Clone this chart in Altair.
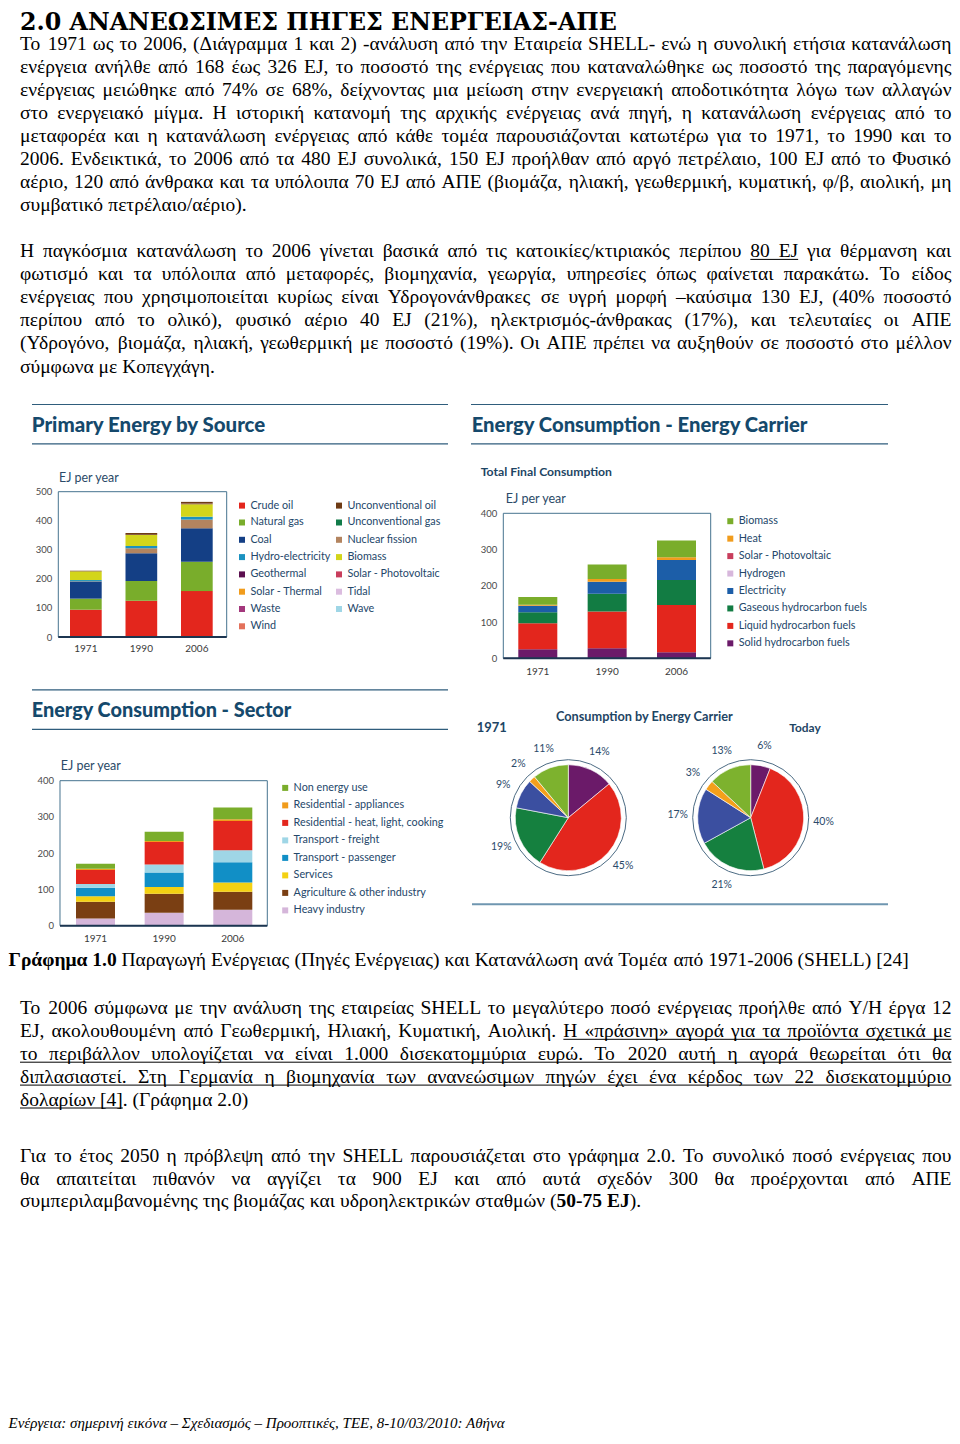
import os
import glob
import struct
import subprocess

import pandas as pd
import altair as alt

# ---------------------------------------------------------------- data
years = ['1971', '1990', '2006']

# Primary energy by source, EJ per year (stacked bottom -> top)
source_names = ['Crude oil', 'Natural gas', 'Coal', 'Nuclear fission', 'Hydro-electricity',
                'Biomass', 'Geothermal', 'Solar - Thermal', 'Waste', 'Wind',
                'Solar - Photovoltaic', 'Tidal', 'Wave', 'Unconventional gas', 'Unconventional oil']
source_1971 = [94, 38, 59, 1, 4, 30, 0, 0, 0, 0, 0, 0, 0, 0, 2]
source_1990 = [125, 68, 95, 17, 8, 38, 1, 0, 0, 0, 0, 0, 0, 0, 6]
source_2006 = [158, 101, 115, 30, 10, 43, 1, 0, 0, 1, 0, 0, 0, 0, 6]
# legend order, column by column
source_legend = ['Crude oil', 'Natural gas', 'Coal', 'Hydro-electricity', 'Geothermal',
                 'Solar - Thermal', 'Waste', 'Wind',
                 'Unconventional oil', 'Unconventional gas', 'Nuclear fission', 'Biomass',
                 'Solar - Photovoltaic', 'Tidal', 'Wave']
source_colors = {'Crude oil': '#e3261d', 'Unconventional oil': '#6e3b14',
                 'Natural gas': '#79ad2b', 'Unconventional gas': '#117b49',
                 'Coal': '#143f85', 'Nuclear fission': '#b3845f',
                 'Hydro-electricity': '#1b92c0', 'Biomass': '#d3d51b',
                 'Geothermal': '#5b0f4f', 'Solar - Photovoltaic': '#c83d5c',
                 'Solar - Thermal': '#f19c1c', 'Tidal': '#dbbcdf',
                 'Waste': '#a3377c', 'Wave': '#9fd6e6', 'Wind': '#e3715b'}

# Total final consumption by carrier, EJ per year (stacked bottom -> top)
carrier_names = ['Solid hydrocarbon fuels', 'Liquid hydrocarbon fuels', 'Gaseous hydrocarbon fuels',
                 'Electricity', 'Hydrogen', 'Solar - Photovoltaic', 'Heat', 'Biomass']
carrier_1971 = [25, 72, 30, 18, 0, 0, 3, 21]
carrier_1990 = [28, 101, 49, 33, 0, 0, 8, 40]
carrier_2006 = [17, 130, 69, 55, 0, 0, 8, 46]
carrier_legend = list(reversed(carrier_names))
carrier_colors = {'Solid hydrocarbon fuels': '#6b1a69', 'Liquid hydrocarbon fuels': '#e3261d',
                  'Gaseous hydrocarbon fuels': '#127c43', 'Electricity': '#1c5ea8',
                  'Hydrogen': '#d7b7dc', 'Solar - Photovoltaic': '#c83d5c',
                  'Heat': '#f19c1c', 'Biomass': '#7aad2b'}

# Consumption by sector, EJ per year (stacked bottom -> top)
sector_names = ['Heavy industry', 'Agriculture & other industry', 'Services',
                'Transport - passenger', 'Transport - freight',
                'Residential - heat, light, cooking', 'Residential - appliances', 'Non energy use']
sector_1971 = [20, 46, 15, 24, 10, 39, 3, 14]
sector_1990 = [36, 52, 19, 40, 22, 62, 3, 25]
sector_2006 = [44, 50, 25, 56, 33, 81, 5, 32]
sector_legend = list(reversed(sector_names))
sector_colors = {'Heavy industry': '#d5b6da', 'Agriculture & other industry': '#7a3f13',
                 'Services': '#f4d112', 'Transport - passenger': '#118fc6',
                 'Transport - freight': '#9fd6e6', 'Residential - heat, light, cooking': '#e3261d',
                 'Residential - appliances': '#f19c1c', 'Non energy use': '#7aad2b'}

# Consumption by energy carrier, % (clockwise from 12 o'clock)
pie_periods = ['1971', 'Today']
pie_carriers = ['Solid', 'Liquid', 'Gaseous', 'Electricity', 'Heat', 'Biomass']
pie_1971 = [14, 45, 19, 9, 2, 11]
pie_today = [6, 40, 21, 17, 3, 13]
pie_colors = {'Solid': '#6b1a69', 'Liquid': '#e3261d', 'Gaseous': '#15803f',
              'Electricity': '#3b4fa0', 'Heat': '#f4a01b', 'Biomass': '#7db22e'}

# ---------------------------------------------------------------- text
heading = '2.0 ΑΝΑΝΕΩΣΙΜΕΣ ΠΗΓΕΣ ΕΝΕΡΓΕΙΑΣ-ΑΠΕ'
para1 = [
    'Το 1971 ως το 2006, (Διάγραμμα 1 και 2) -ανάλυση από την Εταιρεία SHELL- ενώ η συνολική ετήσια κατανάλωση',
    'ενέργεια ανήλθε από 168 έως 326 EJ, το ποσοστό της ενέργειας που καταναλώθηκε ως ποσοστό της παραγόμενης',
    'ενέργειας μειώθηκε από 74% σε 68%, δείχνοντας μια μείωση στην ενεργειακή αποδοτικότητα λόγω των αλλαγών',
    'στο ενεργειακό μίγμα. Η ιστορική κατανομή της αρχικής ενέργειας ανά πηγή, η κατανάλωση ενέργειας από το',
    'μεταφορέα και η κατανάλωση ενέργειας από κάθε τομέα παρουσιάζονται κατωτέρω για το 1971, το 1990 και το',
    '2006. Ενδεικτικά, το 2006 από τα 480 EJ συνολικά, 150 EJ προήλθαν από αργό πετρέλαιο, 100 EJ από το Φυσικό',
    'αέριο, 120 από άνθρακα και τα υπόλοιπα 70 EJ από ΑΠΕ (βιομάζα, ηλιακή, γεωθερμική, κυματική, φ/β, αιολική, μη',
    'συμβατικό πετρέλαιο/αέριο).',
]
para2 = [
    'Η παγκόσμια κατανάλωση το 2006 γίνεται βασικά από τις κατοικίες/κτιριακός περίπου __80 EJ__ για θέρμανση και',
    'φωτισμό και τα υπόλοιπα από μεταφορές, βιομηχανία, γεωργία, υπηρεσίες όπως φαίνεται παρακάτω. Το είδος',
    'ενέργειας που χρησιμοποιείται κυρίως είναι Υδρογονάνθρακες σε υγρή μορφή –καύσιμα 130 EJ, (40% ποσοστό',
    'περίπου από το ολικό), φυσικό αέριο 40 EJ (21%), ηλεκτρισμός-άνθρακας (17%), και τελευταίες οι ΑΠΕ',
    '(Υδρογόνο, βιομάζα, ηλιακή, γεωθερμική με ποσοστό (19%). Οι ΑΠΕ πρέπει να αυξηθούν σε ποσοστό στο μέλλον',
    'σύμφωνα με Κοπεγχάγη.',
]
caption = '**Γράφημα 1.0** Παραγωγή Ενέργειας (Πηγές Ενέργειας) και Κατανάλωση ανά Τομέα από 1971-2006 (SHELL) [24]'
para3 = [
    'Το 2006 σύμφωνα με την ανάλυση της εταιρείας SHELL το μεγαλύτερο ποσό ενέργειας προήλθε από Υ/Η έργα 12',
    'EJ, ακολουθουμένη από Γεωθερμική, Ηλιακή, Κυματική, Αιολική. __Η «πράσινη» αγορά για τα προϊόντα σχετικά με__',
    '__το περιβάλλον υπολογίζεται να είναι 1.000 δισεκατομμύρια ευρώ. Το 2020 αυτή η αγορά θεωρείται ότι θα__',
    '__διπλασιαστεί. Στη Γερμανία η βιομηχανία των ανανεώσιμων πηγών έχει ένα κέρδος των 22 δισεκατομμύριο__',
    '__δολαρίων [4]__. (Γράφημα 2.0)',
]
para4 = [
    'Για το έτος 2050 η πρόβλεψη από την SHELL παρουσιάζεται στο γράφημα 2.0. Το συνολικό ποσό ενέργειας που',
    'θα απαιτείται πιθανόν να αγγίζει τα 900 EJ και από αυτά σχεδόν 300 θα προέρχονται από ΑΠΕ',
    'συμπεριλαμβανομένης της βιομάζας και υδροηλεκτρικών σταθμών (**50-75 EJ**).',
]
footer = 'Ενέργεια: σημερινή εικόνα – Σχεδιασμός – Προοπτικές, ΤΕΕ, 8-10/03/2010: Αθήνα'

# ---------------------------------------------------------------- layout helpers
W = 944
H = 1424


def P(v):
    return v - 8.0


FONT_DIRS = ['/usr/share/fonts', '/usr/local/share/fonts',
             os.path.expanduser('~/.fonts'), os.path.expanduser('~/.local/share/fonts')]


def find_font(names, fc=None):
    for d in FONT_DIRS:
        if not os.path.isdir(d):
            continue
        for n in names:
            hits = glob.glob(os.path.join(d, '**', n), recursive=True)
            if hits:
                return hits[0]
    if fc:
        try:
            r = subprocess.run(['fc-match', '-f', '%{file}', fc], capture_output=True, text=True, timeout=10)
            f = r.stdout.strip()
            if f and os.path.isfile(f) and f.lower().endswith(('.ttf', '.otf')):
                return f
        except Exception:
            pass
    return None


class FontMetrics:
    def __init__(self, path, fallback_em=0.5):
        self.ok = False
        self.fallback_em = fallback_em
        self.cache = {}
        if path:
            try:
                self._load(path)
                self.ok = True
            except Exception:
                self.ok = False

    def _load(self, path):
        with open(path, 'rb') as fh:
            d = fh.read()
        base = 0
        if d[:4] == b'ttcf':
            base = struct.unpack('>I', d[12:16])[0]
        num = struct.unpack('>H', d[base + 4:base + 6])[0]
        tabs = {}
        for i in range(num):
            rec = base + 12 + 16 * i
            tag = d[rec:rec + 4].decode('latin-1')
            tabs[tag] = struct.unpack('>I', d[rec + 8:rec + 12])[0]
        self.upem = struct.unpack('>H', d[tabs['head'] + 18:tabs['head'] + 20])[0]
        nhm = struct.unpack('>H', d[tabs['hhea'] + 34:tabs['hhea'] + 36])[0]
        h = tabs['hmtx']
        self.advs = [struct.unpack('>H', d[h + 4 * i:h + 4 * i + 2])[0] for i in range(nhm)]
        c = tabs['cmap']
        n = struct.unpack('>H', d[c + 2:c + 4])[0]
        sub = None
        for i in range(n):
            pid, eid, off = struct.unpack('>HHI', d[c + 4 + 8 * i:c + 12 + 8 * i])
            fmt = struct.unpack('>H', d[c + off:c + off + 2])[0]
            if fmt == 4 and (sub is None or pid == 3):
                sub = c + off
        segx2 = struct.unpack('>H', d[sub + 6:sub + 8])[0]
        seg = segx2 // 2
        self.ends = struct.unpack('>%dH' % seg, d[sub + 14:sub + 14 + segx2])
        self.starts = struct.unpack('>%dH' % seg, d[sub + 16 + segx2:sub + 16 + 2 * segx2])
        self.deltas = struct.unpack('>%dH' % seg, d[sub + 16 + 2 * segx2:sub + 16 + 3 * segx2])
        self.ro = sub + 16 + 3 * segx2
        self.roffs = struct.unpack('>%dH' % seg, d[self.ro:self.ro + segx2])
        self.d = d

    def gid(self, cp):
        if cp > 0xFFFF:
            return 0
        for i, e in enumerate(self.ends):
            if cp <= e:
                s = self.starts[i]
                if cp < s:
                    return 0
                ro = self.roffs[i]
                if ro == 0:
                    return (cp + self.deltas[i]) & 0xFFFF
                a = self.ro + 2 * i + ro + 2 * (cp - s)
                g = struct.unpack('>H', self.d[a:a + 2])[0]
                return (g + self.deltas[i]) & 0xFFFF if g else 0
        return 0

    def adv(self, ch):
        if ch in self.cache:
            return self.cache[ch]
        if self.ok:
            g = self.gid(ord(ch))
            a = self.advs[min(g, len(self.advs) - 1)] / self.upem
        else:
            a = 0.25 if ch == ' ' else (0.66 if ch.isupper() else self.fallback_em)
        self.cache[ch] = a
        return a

    def width(self, s, size=1.0):
        return sum(self.adv(ch) for ch in s) * size


serif_reg = FontMetrics(find_font(['LiberationSerif-Regular.ttf'], 'Liberation Serif'), 0.47)
serif_bold = FontMetrics(find_font(['LiberationSerif-Bold.ttf'], 'Liberation Serif:bold'), 0.5)
serif_it = FontMetrics(find_font(['LiberationSerif-Italic.ttf'], 'Liberation Serif:italic'), 0.45)
dejavu_path = find_font(['DejaVuSerif-Bold.ttf'])
HEAD_FONT = 'DejaVu Serif' if dejavu_path else 'Liberation Serif'
head_metrics = FontMetrics(dejavu_path, 0.75) if dejavu_path else serif_bold
lato_reg = FontMetrics(find_font(['Lato-Regular.ttf'], 'Lato'), 0.5)
lato_bold = FontMetrics(find_font(['Lato-Bold.ttf'], 'Lato:bold'), 0.53)
black_path = find_font(['Lato-Black.ttf'])
TITLE_WEIGHT = 900 if black_path else 'bold'
lato_title = FontMetrics(black_path, 0.55) if black_path else lato_bold


def clamp(v, lo, hi):
    return max(lo, min(hi, v))


def parse(line):
    pieces, bold, ul, buf, i = [], False, False, '', 0
    while i < len(line):
        if line.startswith('**', i):
            if buf:
                pieces.append((buf, bold, ul))
                buf = ''
            bold = not bold
            i += 2
            continue
        if line.startswith('__', i):
            if buf:
                pieces.append((buf, bold, ul))
                buf = ''
            ul = not ul
            i += 2
            continue
        buf += line[i]
        i += 1
    if buf:
        pieces.append((buf, bold, ul))
    return pieces


def words_of(pieces):
    words = [[]]
    for text, b, u in pieces:
        parts = text.split(' ')
        for k, p in enumerate(parts):
            if k > 0:
                words.append([])
            if p:
                words[-1].append((p, b, u))
    return [w for w in words if w]


def piece_w(p, b, size):
    return (serif_bold if b else serif_reg).width(p, size)


def natural_width(line, size=1.0):
    ws = words_of(parse(line))
    return sum(piece_w(p, b, size) for w in ws for p, b, u in w) + (len(ws) - 1) * serif_reg.width(' ', size)


body_size = clamp(920.0 / natural_width(caption), 14.0, 19.5)
heading_size = clamp(597.0 / head_metrics.width(heading), 17.0, 24.0)
footer_size = clamp(528.0 / serif_it.width(footer), 11.0, 15.0)

words_reg, words_bold, underlines = [], [], []


def layout_line(line, x0, x1, y, justify):
    ws = words_of(parse(line))
    widths = [sum(piece_w(p, b, body_size) for p, b, u in w) for w in ws]
    space = serif_reg.width(' ', body_size)
    gap = space
    if justify and len(ws) > 1:
        gap = (x1 - x0 - sum(widths)) / (len(ws) - 1)
        if gap < 0.4 * space:
            gap = 0.4 * space
    x = x0
    run = None
    for w, wd in zip(ws, widths):
        px = x
        for p, b, u in w:
            pw = piece_w(p, b, body_size)
            (words_bold if b else words_reg).append({'x': P(px), 'y': P(y), 'text': p})
            if u:
                if run is None:
                    run = [px, px + pw]
                else:
                    run[1] = px + pw
            elif run is not None:
                underlines.append({'x': P(run[0]), 'x2': P(run[1]), 'y': P(y + 2.4)})
                run = None
            px += pw
        x += wd + gap
    if run is not None:
        underlines.append({'x': P(run[0]), 'x2': P(run[1]), 'y': P(y + 2.4)})


def layout_para(lines, y0, step, x0=20.0, x1=951.5):
    for i, ln in enumerate(lines):
        layout_line(ln, x0, x1, y0 + i * step, i < len(lines) - 1)


layout_para(para1, 50.4, 23.0)
layout_para(para2, 257.0, 23.1)
layout_line(caption, 8.5, 951.5, 966.0, False)
layout_para(para3, 1014.0, 22.9)
layout_para(para4, 1162.3, 22.5)

# ---------------------------------------------------------------- chart labels
legend_size = clamp(129.0 / lato_reg.width('Gaseous hydrocarbon fuels'), 9.0, 12.0)


def fit(metrics, text, target, fallback):
    if metrics.ok:
        return clamp(target / metrics.width(text), 0.7 * fallback, 1.4 * fallback)
    return fallback


title_rows = [
    {'x': P(31.7), 'y': P(431.7), 'text': 'Primary Energy by Source', 'size': fit(lato_title, 'Primary Energy by Source', 238, 18)},
    {'x': P(471.7), 'y': P(431.7), 'text': 'Energy Consumption - Energy Carrier', 'size': fit(lato_title, 'Energy Consumption - Energy Carrier', 339, 18)},
    {'x': P(31.7), 'y': P(717.3), 'text': 'Energy Consumption - Sector', 'size': fit(lato_title, 'Energy Consumption - Sector', 262, 18)},
]
sub_rows = [
    {'x': P(480.7), 'y': P(476.0), 'text': 'Total Final Consumption', 'size': fit(lato_bold, 'Total Final Consumption', 133, 12)},
    {'x': P(556.0), 'y': P(721.0), 'text': 'Consumption by Energy Carrier', 'size': fit(lato_bold, 'Consumption by Energy Carrier', 178, 12)},
    {'x': P(476.7), 'y': P(731.7), 'text': '1971', 'size': fit(lato_bold, '1971', 30, 12.5)},
    {'x': P(789.3), 'y': P(731.7), 'text': 'Today', 'size': fit(lato_bold, 'Today', 33, 12.5)},
]
unit_rows = [
    {'x': P(59.0), 'y': P(481.7), 'text': 'EJ per year', 'size': fit(lato_reg, 'EJ per year', 60.5, 12.5)},
    {'x': P(505.7), 'y': P(503.3), 'text': 'EJ per year', 'size': fit(lato_reg, 'EJ per year', 61, 12.5)},
    {'x': P(60.7), 'y': P(770.0), 'text': 'EJ per year', 'size': fit(lato_reg, 'EJ per year', 61, 12.5)},
]

rules_dark = pd.DataFrame([
    {'x': P(32), 'x2': P(448), 'y': P(404.5)}, {'x': P(32), 'x2': P(448), 'y': P(443.8)},
    {'x': P(471), 'x2': P(888), 'y': P(404.5)}, {'x': P(471), 'x2': P(888), 'y': P(443.8)},
    {'x': P(32), 'x2': P(448), 'y': P(689.8)}, {'x': P(32), 'x2': P(448), 'y': P(729.3)},
])
rules_light = pd.DataFrame([{'x': P(472), 'x2': P(888), 'y': P(904.3)}])
frames = pd.DataFrame([
    {'x': P(58.3), 'x2': P(226.7), 'y': P(491.7), 'y2': P(637.0)},
    {'x': P(503.3), 'x2': P(710.7), 'y': P(513.3), 'y2': P(658.3)},
    {'x': P(60.0), 'x2': P(267.3), 'y': P(780.7), 'y2': P(925.7)},
])
baselines = frames.assign(y=frames['y2'])


def ix(f):
    return alt.X(f, scale=None, axis=None)


def iy(f):
    return alt.Y(f, scale=None, axis=None)


def text_layer(rows, font, weight, color, style='normal', size=None, baseline='alphabetic'):
    df = pd.DataFrame(rows)
    kw = dict(align='left', baseline=baseline, font=font, fontWeight=weight, color=color, fontStyle=style)
    enc = dict(x=ix('x:Q'), y=iy('y:Q'), text='text:N')
    if size is None:
        enc['size'] = alt.Size('size:Q', scale=None, legend=None)
    else:
        kw['fontSize'] = size
    return alt.Chart(df).mark_text(**kw).encode(**enc)


# ---------------------------------------------------------------- bar panels
def stacked_frame(names, series):
    rows = []
    for yr, vals in zip(years, series):
        for rank, (nm, v) in enumerate(zip(names, vals)):
            rows.append({'year': yr, 'cat': nm, 'ej': v, 'rank': rank})
    return pd.DataFrame(rows)


LEG_OFFSET = 4.2    # legend group top -> first row centre
LEG_ENTRY = 12.0    # legend entry height


def bar_panel(df, legend_order, colors, x_lo, x_hi, bar_w, axis_x, y_bottom, y_top, y_max,
              lab_pad, leg_x, leg_first, leg_step, leg_cols, leg_col):
    n = len(years)
    span = x_hi - x_lo
    pad_in = (span - n * bar_w) / (span - bar_w)
    x = alt.X('year:N', sort=years,
              scale=alt.Scale(domain=years, range=[P(x_lo), P(x_hi)], paddingInner=pad_in, paddingOuter=0),
              axis=alt.Axis(orient='bottom', offset=P(y_bottom) - H, domain=False, ticks=False, grid=False,
                            labelAngle=0, labelPadding=lab_pad, labelFont='Lato', labelFontSize=10,
                            labelColor='#3a3a3a', title=None))
    y = alt.Y('ej:Q', stack='zero',
              scale=alt.Scale(domain=[0, y_max], range=[P(y_bottom), P(y_top)], nice=False, zero=True),
              axis=alt.Axis(orient='left', offset=-P(axis_x), values=list(range(0, y_max + 1, 100)),
                            domain=False, ticks=False, grid=False, labelPadding=6.5, labelFont='Lato',
                            labelFontSize=9.5, labelColor='#4a4a4a', title=None))
    color = alt.Color('cat:N',
                      scale=alt.Scale(domain=legend_order, range=[colors[c] for c in legend_order]),
                      legend=alt.Legend(title=None, orient='none', legendX=P(leg_x),
                                        legendY=P(leg_first - LEG_OFFSET),
                                        direction='vertical', columns=leg_cols, symbolType='square',
                                        symbolSize=36, symbolStrokeWidth=0, symbolOpacity=1,
                                        labelFont='Lato', labelFontSize=legend_size, labelColor='#24476a',
                                        labelOffset=3, labelLimit=400, rowPadding=leg_step - LEG_ENTRY,
                                        columnPadding=leg_col, padding=0))
    return alt.Chart(df).mark_bar().encode(x=x, y=y, color=color, order=alt.Order('rank:Q', sort='ascending'))


bars1 = bar_panel(stacked_frame(source_names, [source_1971, source_1990, source_2006]),
                  source_legend, source_colors, 70.0, 212.7, 31.7, 58.3, 637.0, 491.7, 500,
                  6.5, 236.6, 504.0, 17.3, 2, 3)
bars2 = bar_panel(stacked_frame(carrier_names, [carrier_1971, carrier_1990, carrier_2006]),
                  carrier_legend, carrier_colors, 518.3, 696.0, 39.0, 503.3, 658.3, 513.3, 400,
                  8.5, 724.9, 520.0, 17.45, 1, 10)
bars3 = bar_panel(stacked_frame(sector_names, [sector_1971, sector_1990, sector_2006]),
                  sector_legend, sector_colors, 76.0, 252.3, 39.0, 60.0, 925.7, 780.7, 400,
                  8.0, 279.8, 786.7, 17.5, 1, 10)

# ---------------------------------------------------------------- pies
pie_rows = []
for per, vals in zip(pie_periods, [pie_1971, pie_today]):
    for rank, (c, v) in enumerate(zip(pie_carriers, vals)):
        pie_rows.append({'period': per, 'carrier': c, 'share': v, 'rank': rank, 'label': '%d%%' % v})
pie_df = pd.DataFrame(pie_rows)

px = alt.X('period:N', scale=alt.Scale(type='point', domain=pie_periods, range=[P(568.3), P(750.7)], padding=0),
           axis=None)
py = alt.value(P(817.7))
theta = alt.Theta('share:Q', stack=True, scale=alt.Scale(domain=[0, 100]))
pie_color = alt.Color('carrier:N', scale=alt.Scale(domain=pie_carriers, range=[pie_colors[c] for c in pie_carriers]),
                      legend=None)
pie_base = alt.Chart(pie_df)
pie_layers = [
    pie_base.transform_filter(alt.datum.rank == 0).mark_point(
        shape='circle', filled=False, size=4 * 58 * 58, stroke='#4d6c84', strokeWidth=1, opacity=1
    ).encode(x=px, y=py)
]
for per in pie_periods:
    sub = pie_base.transform_filter(alt.datum.period == per)
    pie_layers.append(sub.mark_arc(outerRadius=53, stroke='#ffffff', strokeWidth=0.6).encode(
        x=px, y=py, theta=theta, color=pie_color, order=alt.Order('rank:Q', sort='ascending')))
    pie_layers.append(sub.mark_text(radius=73, font='Lato', fontSize=10.5, color='#2b4a6a').encode(
        x=px, y=py, theta=theta, text='label:N', order=alt.Order('rank:Q', sort='ascending')))
pies = alt.layer(*pie_layers)

# ---------------------------------------------------------------- decorations
frame_layer = alt.Chart(frames).mark_rect(fillOpacity=0, stroke='#46738f', strokeWidth=1).encode(
    x=ix('x:Q'), x2='x2:Q', y=iy('y:Q'), y2='y2:Q')
base_layer = alt.Chart(baselines).mark_rule(color='#1c3550', strokeWidth=2).encode(
    x=ix('x:Q'), x2='x2:Q', y=iy('y:Q'))
rule_dark_layer = alt.Chart(rules_dark).mark_rule(color='#2f5d7c', strokeWidth=1.2).encode(
    x=ix('x:Q'), x2='x2:Q', y=iy('y:Q'))
rule_light_layer = alt.Chart(rules_light).mark_rule(color='#6f96b0', strokeWidth=2).encode(
    x=ix('x:Q'), x2='x2:Q', y=iy('y:Q'))

layers = [bars1, bars2, bars3, pies, frame_layer, base_layer, rule_dark_layer, rule_light_layer,
          text_layer(title_rows, 'Lato', TITLE_WEIGHT, '#15496c'),
          text_layer(sub_rows, 'Lato', 'bold', '#1e4564'),
          text_layer(unit_rows, 'Lato', 'normal', '#2b4a68'),
          text_layer([{'x': P(20), 'y': P(30.0), 'text': heading}], HEAD_FONT, 'bold', '#000000',
                     size=heading_size),
          text_layer(words_reg, 'Liberation Serif', 'normal', '#000000', size=body_size),
          text_layer(words_bold, 'Liberation Serif', 'bold', '#000000', size=body_size),
          text_layer([{'x': P(8.5), 'y': P(1428.0), 'text': footer}], 'Liberation Serif', 'normal', '#000000',
                     style='italic', size=footer_size)]
if underlines:
    layers.append(alt.Chart(pd.DataFrame(underlines)).mark_rule(color='#000000', strokeWidth=1).encode(
        x=ix('x:Q'), x2='x2:Q', y=iy('y:Q')))

chart = alt.layer(*layers).resolve_scale(
    x='independent', y='independent', color='independent', theta='independent'
).properties(
    width=W, height=H, padding=0, autosize=alt.AutoSizeParams(type='none'), background='#ffffff'
).configure_view(stroke=None)

chart.save('out.html', embed_options={'renderer': 'svg', 'actions': False})
